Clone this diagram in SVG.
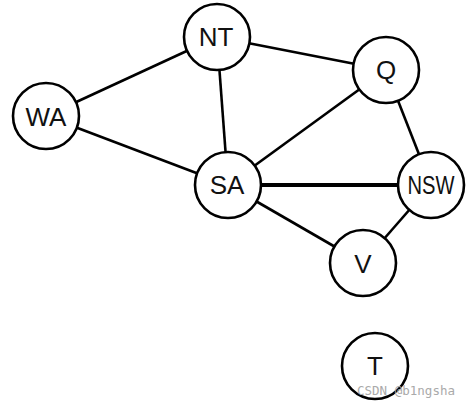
<svg xmlns="http://www.w3.org/2000/svg" width="470" height="408" viewBox="0 0 470 408">
<style>
.n{fill:#fff;stroke:#000;stroke-width:2.6}
.t{font-family:"Liberation Sans",Arial,sans-serif;font-size:26px;fill:#111;text-anchor:middle}
.e{stroke:#000;stroke-width:2.6;fill:none}
.wm{font-family:"DejaVu Sans Mono","Liberation Mono",monospace;font-size:12px;fill:#aaa}
</style>
<rect width="470" height="408" fill="#fff"/>
<g id="edges">
<line class="e" x1="46" y1="116" x2="217" y2="37"/>
<line class="e" x1="46" y1="116" x2="228" y2="185"/>
<line class="e" x1="217" y1="37" x2="228" y2="185"/>
<line class="e" x1="217" y1="37" x2="386" y2="70"/>
<line class="e" x1="228" y1="185" x2="386" y2="70"/>
<line class="e" x1="228" y1="185" x2="431" y2="185" style="stroke-width:4"/>
<line class="e" x1="228" y1="185" x2="363" y2="263"/>
<line class="e" x1="386" y1="70" x2="431" y2="185"/>
<line class="e" x1="431" y1="185" x2="363" y2="263"/>
</g>
<g id="WA"><circle class="n" cx="46" cy="116" r="33"/><text class="t" x="46" y="125.5">WA</text></g>
<g id="NT"><circle class="n" cx="217" cy="37" r="33"/><text class="t" x="216" y="46">NT</text></g>
<g id="Q"><circle class="n" cx="386" cy="70" r="33"/><text class="t" x="386" y="79">Q</text></g>
<g id="SA"><circle class="n" cx="228" cy="185" r="33"/><text class="t" x="227" y="194">SA</text></g>
<g id="NSW"><circle class="n" cx="431" cy="185" r="33"/><text class="t" x="431" y="194" textLength="47" lengthAdjust="spacingAndGlyphs">NSW</text></g>
<g id="V"><circle class="n" cx="363" cy="263" r="33"/><text class="t" x="363" y="273">V</text></g>
<g id="T"><circle class="n" cx="375" cy="366" r="33"/><text class="t" x="375" y="375">T</text></g>
<text class="wm" x="357" y="395" textLength="98" lengthAdjust="spacingAndGlyphs">CSDN @b1ngsha</text>
</svg>
